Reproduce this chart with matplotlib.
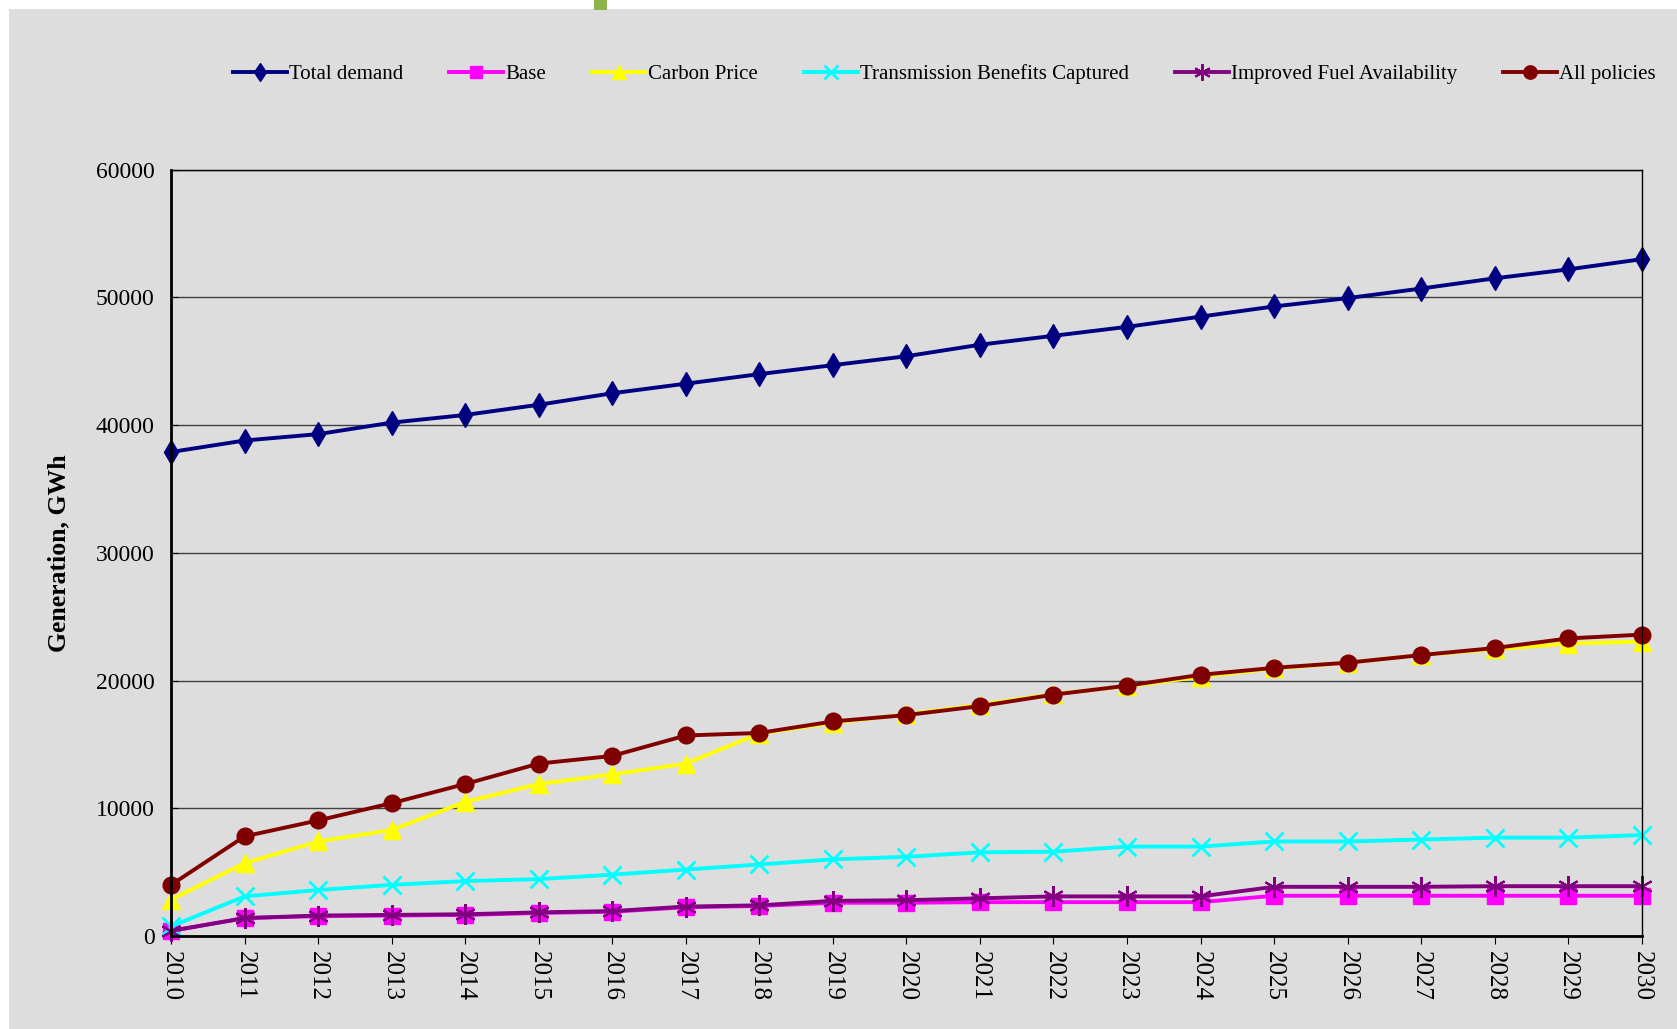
import numpy as np
import matplotlib
matplotlib.use("Agg")
import matplotlib.pyplot as plt
from matplotlib.patches import Rectangle

# years on the category axis
years = [str(y) for y in range(2010, 2031)]

# values, GWh
total_demand = [37900, 38800, 39300, 40200, 40800, 41600, 42500, 43250, 44000, 44700,
                45400, 46300, 47000, 47700, 48500, 49300, 49950, 50700, 51500, 52200, 53000]
base = [400, 1400, 1550, 1600, 1650, 1800, 1900, 2250, 2350, 2600,
        2600, 2650, 2650, 2650, 2650, 3150, 3150, 3150, 3150, 3150, 3150]
carbon_price = [2850, 5700, 7400, 8300, 10500, 11900, 12650, 13500, 15850, 16700,
                17350, 18100, 18950, 19550, 20300, 20950, 21400, 22000, 22450, 22900, 23050]
transmission = [750, 3100, 3600, 4000, 4300, 4450, 4800, 5200, 5600, 6000,
                6200, 6550, 6600, 7000, 7000, 7400, 7400, 7550, 7700, 7700, 7900]
fuel = [400, 1400, 1600, 1650, 1700, 1850, 1950, 2300, 2400, 2750,
        2800, 2950, 3100, 3100, 3100, 3850, 3850, 3850, 3900, 3900, 3900]
all_policies = [4000, 7800, 9050, 10400, 11900, 13500, 14100, 15700, 15900, 16800,
                17300, 18000, 18900, 19600, 20450, 21000, 21400, 22000, 22550, 23300, 23600]

plt.rcParams['font.family'] = ['Liberation Serif', 'DejaVu Serif']

fig = plt.figure(figsize=(16.77, 10.29), dpi=100)
fig.patch.set_facecolor('#DDDDDD')
# thin white strips top/left and the little green mark
fig.patches.append(Rectangle((0, 1 - 9/1029), 1, 9/1029, transform=fig.transFigure,
                             facecolor='white', edgecolor='none', zorder=1))
fig.patches.append(Rectangle((0, 0), 9/1677, 1, transform=fig.transFigure,
                             facecolor='white', edgecolor='none', zorder=1))
fig.patches.append(Rectangle((594/1677, 1 - 10/1029), 13/1677, 10/1029, transform=fig.transFigure,
                             facecolor='#8CB44A', edgecolor='none', zorder=2))

ax = fig.add_axes([0.102, 0.0904, 0.877, 0.7446])
ax.set_facecolor('#DDDDDD')

x = np.arange(len(years))
lw = 2.8
ax.plot(x, total_demand, color='#000080', lw=lw, marker='d', ms=12, label='Total demand', clip_on=False)
ax.plot(x, base, color='#FF00FF', lw=lw, marker='s', ms=11, label='Base', clip_on=False)
ax.plot(x, carbon_price, color='#FFFF00', lw=lw, marker='^', ms=13, label='Carbon Price', clip_on=False)
ax.plot(x, transmission, color='#00FFFF', lw=lw, marker='x', ms=13, mew=2, label='Transmission Benefits Captured', clip_on=False)
ax.plot(x, fuel, color='#800080', lw=lw, marker=(6, 2, 0), ms=15, mew=1.5, label='Improved Fuel Availability', clip_on=False)
ax.plot(x, all_policies, color='#800000', lw=lw, marker='o', ms=12, label='All policies', clip_on=False)

ax.set_xlim(0, len(years) - 1)
ax.set_ylim(0, 60000)
ax.set_yticks(np.arange(0, 60001, 10000))
ax.set_xticks(x)
ax.set_xticklabels(years, rotation=-90, fontsize=18)
ax.tick_params(axis='y', labelsize=17, direction='in', length=5, pad=12)
ax.tick_params(axis='x', direction='out', length=6, pad=5)
ax.yaxis.grid(True, color='#404040', lw=1)
ax.set_axisbelow(True)

for s in ['left', 'bottom']:
    ax.spines[s].set_linewidth(2)
for s in ['top', 'right']:
    ax.spines[s].set_linewidth(1)

ax.set_ylabel('Generation, GWh', fontsize=18.5, fontweight='bold', labelpad=18)

leg = fig.legend(loc='center', bbox_to_anchor=(0.563, 0.928), ncol=6, frameon=False,
                 fontsize=15, handlelength=2.6, columnspacing=2.2, handletextpad=0.1,
                 markerscale=0.8)

fig.savefig('out.png', dpi=100, facecolor=fig.get_facecolor())
